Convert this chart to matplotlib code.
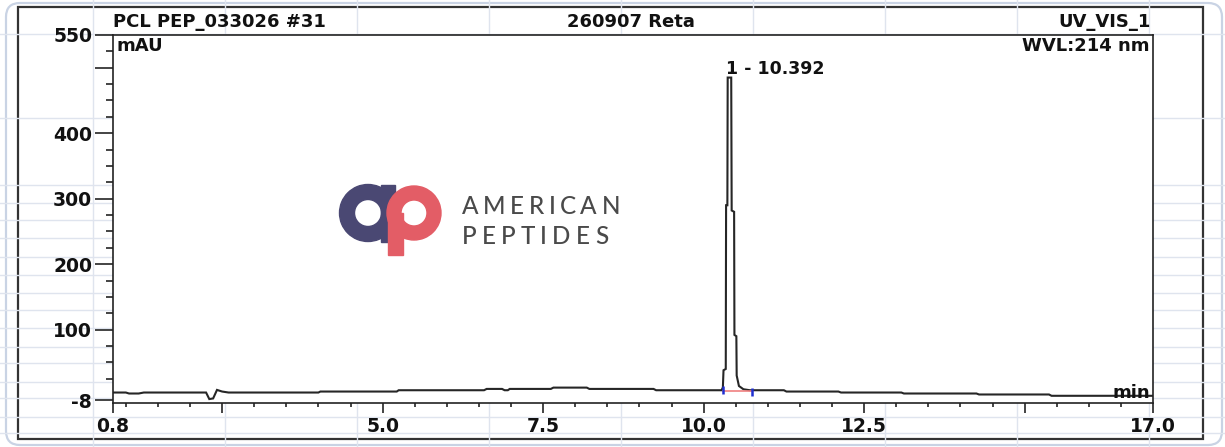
import matplotlib
matplotlib.use("Agg")
import matplotlib.pyplot as plt
from matplotlib.patches import Rectangle, Annulus, FancyBboxPatch
from matplotlib.ticker import FixedLocator, FixedFormatter

# chromatogram trace: retention time (min) vs absorbance (mAU)
time = [0.80, 1.00, 1.05, 1.20, 1.28, 2.25, 2.30, 2.36, 2.42, 2.50, 2.60,
        4.00, 4.03, 5.22, 5.25, 6.58, 6.62, 6.86, 6.90, 6.95, 6.98, 7.62,
        7.66, 8.18, 8.22, 9.22, 9.26, 10.28, 10.30, 10.31, 10.345, 10.35,
        10.37, 10.375, 10.43, 10.437, 10.475, 10.48, 10.51, 10.515, 10.55,
        10.62, 10.72, 11.25, 11.29, 12.10, 12.14, 13.08, 13.12, 14.25,
        14.29, 15.38, 15.42, 17.00]
signal = [4, 4, 2.5, 2.5, 4, 4, -6, -5, 8, 5.5, 4,
          4, 5.5, 5.5, 7.5, 7.5, 9.5, 9.5, 7.5, 7.5, 9.5, 9.5,
          11.5, 11.5, 9.5, 9.5, 7.5, 7.5, 12, 38, 40, 290,
          290, 485, 485, 282, 280, 92, 90, 30, 14,
          9, 7.5, 7.5, 5.5, 5.5, 4, 4, 2.5, 2.5,
          1, 1, -1, -1]

# integration of peak 1
peak_label = "1 - 10.392"
peak_start = 10.30
peak_end = 10.75
peak_base = 6.5

x_major = [0.8, 2.5, 5.0, 7.5, 10.0, 12.5, 15.0, 17.0]
x_major_labels = ["0.8", "", "5.0", "7.5", "10.0", "12.5", "", "17.0"]
x_minor = [v / 2 for v in range(2, 34) if (v / 2) % 2.5 != 0]
y_major = [-8, 100, 200, 300, 400, 500, 550]
y_major_labels = ["-8", "100", "200", "300", "400", "", "550"]
y_minor = [v for v in range(25, 550, 25) if v % 100 != 0]

W, H = 1225, 447
plt.rcParams["font.family"] = ["DejaVu Sans"]

fig = plt.figure(figsize=(W / 100, H / 100), dpi=100)
fig.patch.set_facecolor("white")

# background: sheet grid, card, report frame (pixel coords)
bg = fig.add_axes([0, 0, 1, 1], zorder=-1)
bg.set_xlim(0, W)
bg.set_ylim(H, 0)
bg.axis("off")
grid_c = "#dfe4ee"
for gx in range(93, W, 132):
    bg.plot([gx, gx], [0, H], color=grid_c, lw=1)
for gy in [34, 118, 185, 203, 220, 238, 257, 275, 293, 310, 328, 347,
           363, 382, 398, 417, 433]:
    bg.plot([0, W], [gy, gy], color=grid_c, lw=1)
bg.add_patch(FancyBboxPatch((6, 3), 1216, 442,
                            boxstyle="round,pad=0,rounding_size=14",
                            facecolor="none", edgecolor="#c9d3e4", lw=1.6))
bg.add_patch(Rectangle((18, 7), 1185, 432, facecolor="white",
                       edgecolor="#333333", lw=1.6))

# main chromatogram axes
ax = fig.add_axes([113 / W, 1 - 403 / H, 1040 / W, 368 / H], zorder=1)
ax.set_facecolor("white")
ax.plot(time, signal, color="#262626", lw=1.5, solid_joinstyle="miter")
ax.plot([peak_start, peak_end], [peak_base, peak_base], color="#f08080", lw=1.2)
ax.plot([peak_start], [peak_base + 2], marker="|", ms=6, mew=1.8, color="#1f2fd0")
ax.plot([peak_end], [peak_base - 2], marker="|", ms=6, mew=1.8, color="#1f2fd0")
ax.text(10.355, 484, peak_label, fontsize=12.5, fontweight="bold",
        ha="left", va="bottom", color="#111111")

ax.set_xlim(0.8, 17.0)
ax.set_ylim(-12, 550)
ax.xaxis.set_major_locator(FixedLocator(x_major))
ax.xaxis.set_major_formatter(FixedFormatter(x_major_labels))
ax.xaxis.set_minor_locator(FixedLocator(x_minor))
ax.yaxis.set_major_locator(FixedLocator(y_major))
ax.yaxis.set_major_formatter(FixedFormatter(y_major_labels))
ax.yaxis.set_minor_locator(FixedLocator(y_minor))
ax.tick_params(axis="y", which="major", length=13, width=1.1, pad=2,
               labelsize=13.5, colors="#111111")
ax.tick_params(axis="y", which="minor", length=5, width=1.1, colors="#111111")
ax.tick_params(axis="x", which="major", length=7, width=1.1, pad=3,
               labelsize=13.5, colors="#111111")
ax.tick_params(axis="x", which="minor", length=3, width=1.1, colors="#111111")
for lab in ax.get_xticklabels() + ax.get_yticklabels():
    lab.set_fontweight("bold")
for sp in ax.spines.values():
    sp.set_color("#222222")
    sp.set_linewidth(1.2)

# header texts
hdr = dict(fontsize=13, fontweight="bold", color="#111111", va="center")
fig.text(113 / W, 1 - 22 / H, "PCL PEP_033026 #31", ha="left", **hdr)
fig.text(631 / W, 1 - 22 / H, "260907 Reta", ha="center", **hdr)
fig.text(1151 / W, 1 - 22 / H, "UV_VIS_1", ha="right", **hdr)
fig.text(116 / W, 1 - 46 / H, "mAU", ha="left", **hdr)
fig.text(1150 / W, 1 - 46 / H, "WVL:214 nm", ha="right", **hdr)
fig.text(1150 / W, 1 - 393 / H, "min", ha="right", **hdr)

# watermark logo
lg = fig.add_axes([0, 0, 1, 1], zorder=2)
lg.set_xlim(0, W)
lg.set_ylim(H, 0)
lg.axis("off")
navy, coral = "#4a4873", "#e35d66"
lg.add_patch(Annulus((368, 213), 28.5, 15, color=navy))
lg.add_patch(Rectangle((381, 184.5), 14, 57, color=navy))
lg.add_patch(Annulus((414, 213), 27, 14, color=coral))
lg.add_patch(Rectangle((388, 213), 15, 42, color=coral))

renderer = fig.canvas.get_renderer()
for word, y0, total in [("AMERICAN", 207, 158), ("PEPTIDES", 236, 146)]:
    x0 = 462
    parts = []
    widths = []
    for ch in word:
        t = lg.text(0, y0, ch, fontsize=17.5, color="#4a4a4a", ha="left",
                    va="center", family=["Lato", "DejaVu Sans"],
                    fontweight="medium")
        widths.append(t.get_window_extent(renderer).width)
        parts.append(t)
    gap = (total - sum(widths)) / (len(word) - 1)
    x = x0
    for t, w in zip(parts, widths):
        t.set_x(x)
        x += w + gap

fig.savefig("out.png", dpi=100, facecolor="white")
